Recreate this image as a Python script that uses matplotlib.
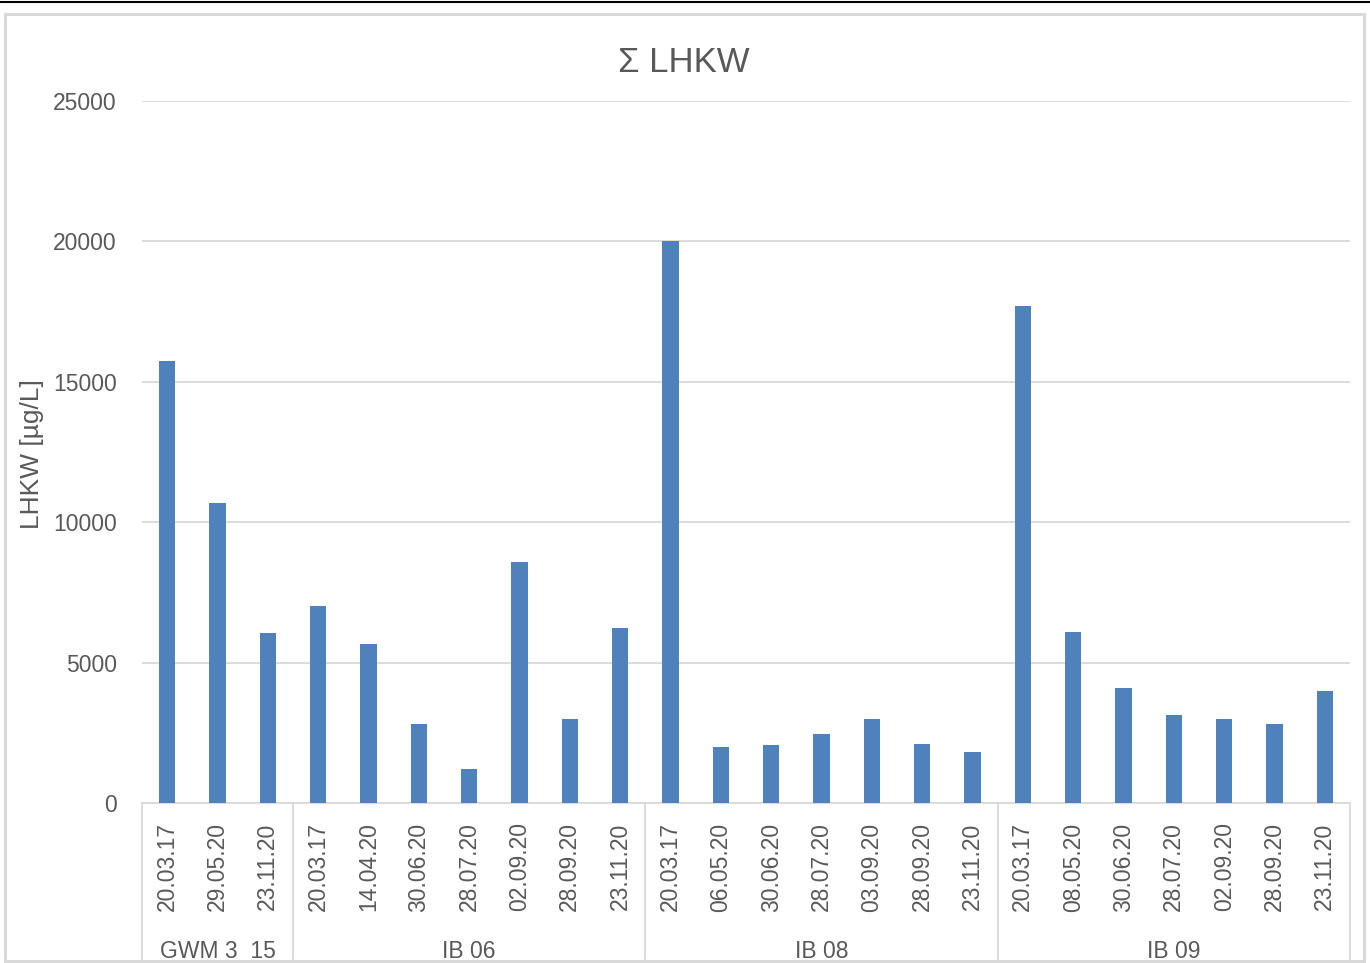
import matplotlib
matplotlib.use('agg')
import matplotlib.pyplot as plt
from matplotlib.lines import Line2D
from matplotlib.patches import Rectangle

plt.rcParams['font.family'] = ['Liberation Sans', 'DejaVu Sans']

# data
groups = ['GWM 3  15', 'IB 06', 'IB 08', 'IB 09']
dates = [
    ['20.03.17', '29.05.20', '23.11.20'],
    ['20.03.17', '14.04.20', '30.06.20', '28.07.20', '02.09.20', '28.09.20', '23.11.20'],
    ['20.03.17', '06.05.20', '30.06.20', '28.07.20', '03.09.20', '28.09.20', '23.11.20'],
    ['20.03.17', '08.05.20', '30.06.20', '28.07.20', '02.09.20', '28.09.20', '23.11.20'],
]
values = [
    [15750, 10700, 6050],
    [7000, 5650, 2800, 1200, 8600, 3000, 6250],
    [20000, 2000, 2050, 2450, 3000, 2100, 1800],
    [17700, 6100, 4080, 3120, 3000, 2800, 3980],
]

txt = '#595959'
grid = '#d9d9d9'
W, H = 1370, 963

fig = plt.figure(figsize=(W / 100, H / 100), dpi=100)
ax = fig.add_axes([142 / W, 1 - 803 / H, (1350 - 142) / W, (803 - 101) / H])

labels = [d for g in dates for d in g]
vals = [v for g in values for v in g]
x = list(range(len(vals)))

ax.bar(x, vals, width=0.32, color='#4f81bd', zorder=3)
ax.set_xlim(-0.5, len(vals) - 0.5)
ax.set_ylim(0, 25000)
ax.set_yticks(range(0, 25001, 5000))
ax.yaxis.grid(True, color=grid, lw=1.3, zorder=0)
for s in ['top', 'right', 'left']:
    ax.spines[s].set_visible(False)
ax.spines['bottom'].set_color(grid)
ax.spines['bottom'].set_linewidth(1.3)
ax.tick_params(axis='y', length=0, pad=18, labelsize=16.5, labelcolor=txt)
ax.tick_params(axis='x', length=0, pad=14, labelsize=16.5, labelcolor=txt)
ax.set_xticks(x)
ax.set_xticklabels(labels, rotation=90)

# group separators and group labels
tr = ax.get_xaxis_transform()
bottom = -(963 - 803) / 702
start = 0
bounds = [-0.5]
for g, d in zip(groups, dates):
    end = start + len(d)
    bounds.append(end - 0.5)
    ax.text((start + end - 1) / 2, -0.211, g, transform=tr, ha='center', va='center',
            fontsize=16.5, color=txt)
    start = end
for b in bounds:
    ax.add_line(Line2D([b, b], [0, bottom], transform=tr, color=grid, lw=1.3, clip_on=False))

ax.set_ylabel('LHKW [µg/L]', fontsize=19, color=txt)
ax.yaxis.set_label_coords(-0.081, 0.497)
fig.text(684 / W, 1 - 62 / H, 'Σ LHKW', ha='center', va='center', fontsize=25, color=txt)

# chart frame and top rule
fig.patches.append(Rectangle((5 / W, 1 - 961 / H), (1364 - 5) / W, (961 - 14) / H,
                             transform=fig.transFigure, fill=False, ec=grid, lw=2.2))
fig.add_artist(Line2D([0, 1], [1 - 2 / H, 1 - 2 / H], transform=fig.transFigure, color='black', lw=1.5))

fig.savefig('out.png', dpi=100)
